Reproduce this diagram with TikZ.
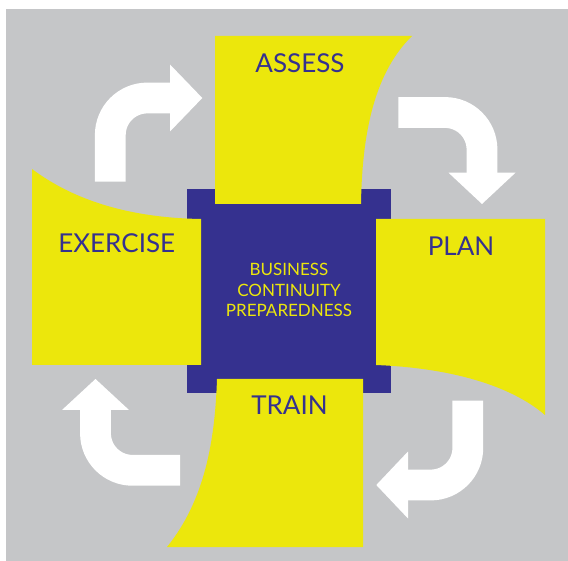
\documentclass[tikz,border=0pt]{standalone}
\usepackage{fontspec}
\setmainfont{Lato}
\usepackage{xcolor}
\definecolor{frame}{HTML}{C5C6C8}
\definecolor{lemon}{HTML}{ECE70C}
\definecolor{navy}{HTML}{35318F}
\definecolor{paper}{HTML}{FFFFFF}
\tikzset{
  panel/.style={fill=lemon, draw=none},
  core/.style={fill=navy, draw=none},
  turn/.style={draw=paper, line width=30.8pt, rounded corners=37pt},
  head/.style={fill=paper, draw=none},
  lab/.style={text=navy, font=\fontsize{26}{30}\selectfont, inner sep=0pt, anchor=base},
  labc/.style={text=lemon, font=\fontsize{17}{20.8}\selectfont, align=center, inner sep=0pt},
}

\begin{document}
\begin{tikzpicture}[x=1pt,y=-1pt]
  \useasboundingbox (0,0) rectangle (568,561);
  \fill[frame] (6,9) rectangle (568,561);
  \fill[core] (187,189) rectangle (391,393);
  % panels
  \fill[panel] (215,36) -- (412,36) .. controls (372,75) and (362,140) .. (361,204) -- (215,204) -- cycle;
  \fill[panel] (376,219) -- (545,219) -- (545,415) .. controls (510,385) and (450,368) .. (376,365) -- cycle;
  \fill[panel] (217,379) -- (363,379) -- (363,547) -- (167,547) .. controls (205,500) and (215,440) .. (217,379) -- cycle;
  \fill[panel] (32,169) .. controls (80,205) and (140,218) .. (201,219) -- (201,365) -- (32,365) -- cycle;
  % turning arrows
  \draw[turn] (110.3,181.7) -- (110.3,98) -- (171,98);
  \fill[head] (170,64.5) -- (202.3,98) -- (170,131.5) -- cycle;
  \draw[turn] (398.3,112.5) -- (482,112.5) -- (482,173.7);
  \fill[head] (448.5,172.7) -- (482,204) -- (515.5,172.7) -- cycle;
  \draw[turn] (467.8,400.7) -- (467.8,485) -- (407,485);
  \fill[head] (408,451.5) -- (376.3,485) -- (408,518.5) -- cycle;
  \draw[turn] (180,470.3) -- (95.5,470.3) -- (95.5,409);
  \fill[head] (62,410) -- (95.5,379) -- (129,410) -- cycle;
  % labels
  \node[lab] (assess) at (300,72.7) {ASSESS};
  \node[lab] (plan) at (461,256) {PLAN};
  \node[lab] (train) at (289.5,415) {TRAIN};
  \node[lab] (exercise) at (116.7,252.3) {EXERCISE};
  \node[labc] (bcp) at (289,290) {BUSINESS\\CONTINUITY\\PREPAREDNESS};
\end{tikzpicture}
\end{document}
